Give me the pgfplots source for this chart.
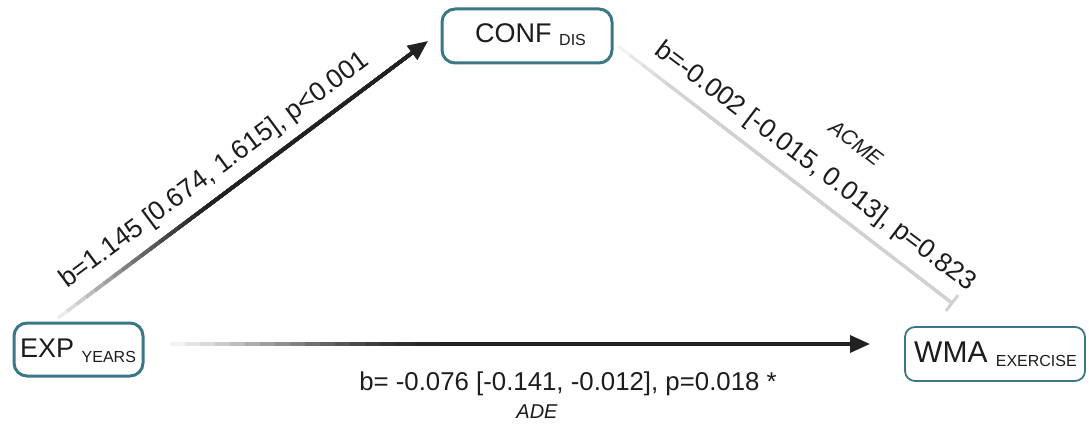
\documentclass[border=0pt]{standalone}
\usepackage{pgfplots}
\pgfplotsset{compat=1.18}
\usetikzlibrary{arrows.meta}
\usepackage{fontspec}
\setmainfont{Liberation Sans}
\definecolor{boxc}{HTML}{3A7787}
\definecolor{txt}{HTML}{1C1C1C}
\begin{document}
\begin{tikzpicture}
\begin{axis}[
  width=1089bp, height=427bp, scale only axis,
  xmin=0, xmax=1089, ymin=0, ymax=427, y dir=reverse,
  hide axis, clip=false]
\path (axis cs:0,0) rectangle (axis cs:1089,427);
% --- arrow a: EXP -> CONF (gradient: each segment runs on to the end, darker ones overdraw)
\addplot[line width=3.5bp, color=black!8] coordinates {(58,318) (420,47)};
\addplot[line width=3.5bp, color=black!14] coordinates {(67.2,311.1) (420,47)};
\addplot[line width=3.5bp, color=black!20] coordinates {(76.45,304.2) (420,47)};
\addplot[line width=3.5bp, color=black!26] coordinates {(85.7,297.3) (420,47)};
\addplot[line width=3.5bp, color=black!32] coordinates {(94.9,290.4) (420,47)};
\addplot[line width=3.5bp, color=black!38] coordinates {(104.1,283.5) (420,47)};
\addplot[line width=3.5bp, color=black!44] coordinates {(113.35,276.6) (420,47)};
\addplot[line width=3.5bp, color=black!50] coordinates {(122.6,269.7) (420,47)};
\addplot[line width=3.5bp, color=black!56] coordinates {(131.8,262.8) (420,47)};
\addplot[line width=3.5bp, color=black!61] coordinates {(141,255.9) (420,47)};
\addplot[line width=3.5bp, color=black!66] coordinates {(150.25,249) (420,47)};
\addplot[line width=3.5bp, color=black!71] coordinates {(159.5,242.1) (420,47)};
\addplot[line width=3.5bp, color=black!75] coordinates {(168.7,235.2) (420,47)};
\addplot[line width=3.5bp, color=black!79] coordinates {(177.9,228.3) (420,47)};
\addplot[line width=3.5bp, color=black!82] coordinates {(187.15,221.4) (420,47)};
\addplot[line width=3.5bp, color=black!85] coordinates {(196.4,214.5) (420,47)};
\addplot[line width=3.5bp, color=black!87, -{Triangle[length=20bp,width=17bp]}] coordinates {(205.6,207.6) (428,41)};
% --- arrow c': EXP -> WMA
\addplot[line width=3.5bp, color=black!5] coordinates {(170,344) (860,344)};
\addplot[line width=3.5bp, color=black!10] coordinates {(185,344) (860,344)};
\addplot[line width=3.5bp, color=black!15] coordinates {(200,344) (860,344)};
\addplot[line width=3.5bp, color=black!20] coordinates {(215,344) (860,344)};
\addplot[line width=3.5bp, color=black!26] coordinates {(230,344) (860,344)};
\addplot[line width=3.5bp, color=black!32] coordinates {(245,344) (860,344)};
\addplot[line width=3.5bp, color=black!38] coordinates {(260,344) (860,344)};
\addplot[line width=3.5bp, color=black!44] coordinates {(275,344) (860,344)};
\addplot[line width=3.5bp, color=black!50] coordinates {(290,344) (860,344)};
\addplot[line width=3.5bp, color=black!56] coordinates {(305,344) (860,344)};
\addplot[line width=3.5bp, color=black!61] coordinates {(320,344) (860,344)};
\addplot[line width=3.5bp, color=black!66] coordinates {(335,344) (860,344)};
\addplot[line width=3.5bp, color=black!71] coordinates {(350,344) (860,344)};
\addplot[line width=3.5bp, color=black!75] coordinates {(365,344) (860,344)};
\addplot[line width=3.5bp, color=black!79] coordinates {(380,344) (860,344)};
\addplot[line width=3.5bp, color=black!82] coordinates {(395,344) (860,344)};
\addplot[line width=3.5bp, color=black!85] coordinates {(415,344) (860,344)};
\addplot[line width=3.5bp, color=black!87, -{Triangle[length=20bp,width=17bp]}] coordinates {(440,344) (870,344)};
% --- line b: CONF -> WMA (non-significant, T end)
\addplot[line width=3bp, color=black!5] coordinates {(618,46) (952,303)};
\addplot[line width=3bp, color=black!9] coordinates {(630,55.2) (952,303)};
\addplot[line width=3bp, color=black!12] coordinates {(642,64.5) (952,303)};
\addplot[line width=3bp, color=black!15] coordinates {(654,73.7) (952,303)};
\addplot[line width=3bp, color=black!17] coordinates {(666,83) (952,303)};
\addplot[line width=3bp, color=black!18] coordinates {(690,101.4) (952,303)};
\addplot[line width=3bp, color=black!18] coordinates {(945.9,310.9) (958.1,295.1)};
% --- boxes
\draw[boxc, line width=3bp, rounded corners=13bp, fill=white] (axis cs:14,323) rectangle (axis cs:143,376);
\draw[boxc, line width=3bp, rounded corners=13bp, fill=white] (axis cs:442,9) rectangle (axis cs:612,63);
\draw[boxc, line width=1.8bp, rounded corners=10bp, fill=white] (axis cs:905,327) rectangle (axis cs:1085,381);
% --- box labels
\node[anchor=base west, inner sep=0, text=txt] at (axis cs:20,357) {\fontsize{27bp}{30bp}\selectfont EXP \raisebox{-5bp}{\fontsize{16bp}{18bp}\selectfont YEARS}};
\node[anchor=base west, inner sep=0, text=txt] at (axis cs:475,43) {\fontsize{27bp}{30bp}\selectfont CONF \raisebox{-3bp}{\fontsize{16bp}{18bp}\selectfont DIS}};
\node[anchor=base west, inner sep=0, text=txt] at (axis cs:914,362) {\fontsize{30bp}{32bp}\selectfont WMA \raisebox{-4bp}{\fontsize{16bp}{18bp}\selectfont EXERCISE}};
% --- path labels
\node[inner sep=0, rotate=36.6, text=txt] at (axis cs:215,171) {\fontsize{26.5bp}{28bp}\selectfont b=1.145 [0.674, 1.615], p<0.001};
\node[inner sep=0, rotate=-37.2, text=txt] at (axis cs:815,167) {\fontsize{26.5bp}{28bp}\selectfont b=-0.002 [-0.015, 0.013], p=0.823};
\node[inner sep=0, rotate=-37.2, text=txt] at (axis cs:856,143) {\fontsize{21bp}{24bp}\selectfont\itshape ACME};
\node[inner sep=0, text=txt] at (axis cs:568,384) {\fontsize{25.8bp}{28bp}\selectfont b= -0.076 [-0.141, -0.012], p=0.018 *};
\node[inner sep=0, text=txt] at (axis cs:537,412) {\fontsize{20bp}{22bp}\selectfont\itshape ADE};
\end{axis}
\end{tikzpicture}
\end{document}
